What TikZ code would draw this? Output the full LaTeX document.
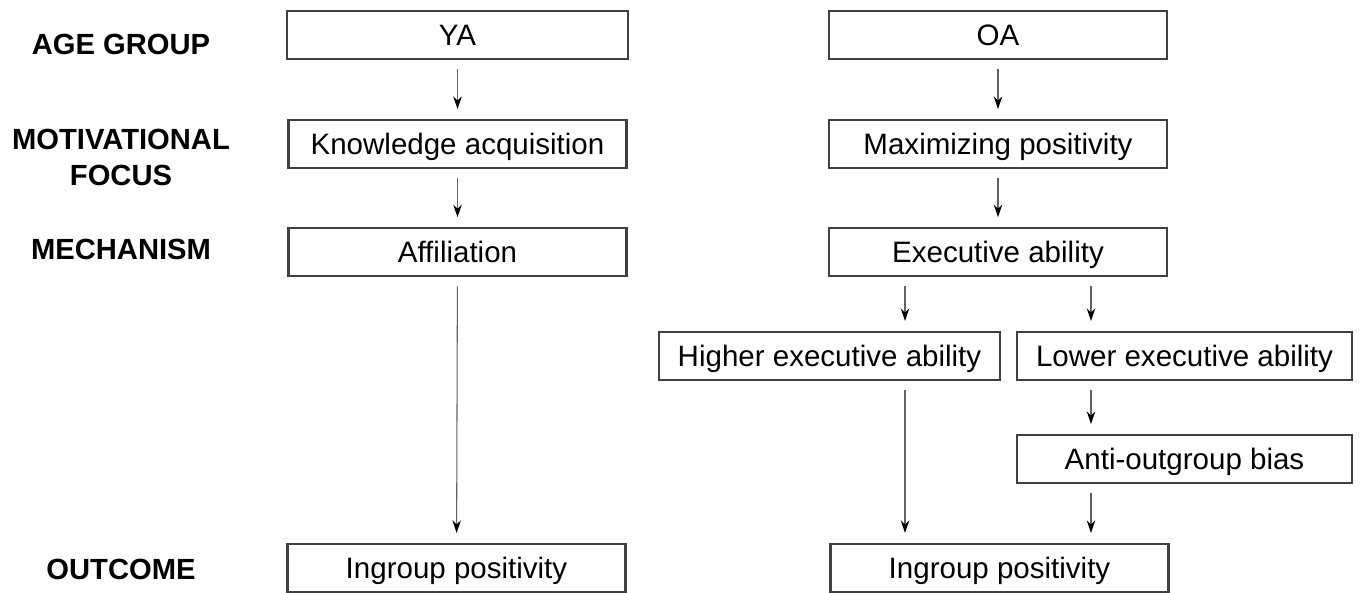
\documentclass[tikz,border=0pt]{standalone}
\usepackage{fontspec}
\setmainfont{Liberation Sans}
\usetikzlibrary{positioning,arrows.meta}
\tikzset{
  >={Stealth[length=1.25mm,width=0.85mm,black]},
  box/.style={rectangle, draw=black!75, line width=0.6pt, inner sep=0pt,
    minimum width=3.38cm, minimum height=0.48cm, align=center,
    text height=0.6em, text depth=0pt,
    font=\fontsize{8.4}{10}\selectfont},
  rowlabel/.style={align=center, font=\fontsize{8.3}{10}\selectfont\bfseries},
  link/.style={->, draw=black!62, line width=0.3pt,
    shorten <=0.09cm, shorten >=0.1cm},
}
\begin{document}
\begin{tikzpicture}[node distance=0.58cm]
  \useasboundingbox (0,0) rectangle (13.6,-5.93);
  % row labels
  \node[rowlabel] (lage) at (1.21,-0.44) {AGE GROUP};
  \node[rowlabel] (lmot) at (1.21,-1.575) {MOTIVATIONAL\\FOCUS};
  \node[rowlabel] (lmech) at (1.21,-2.49) {MECHANISM};
  \node[rowlabel] (lout) at (1.21,-5.69) {OUTCOME};
  % young adults
  \node[box, minimum width=3.41cm] (ya) at (4.575,-0.35) {YA};
  \node[box, below=0.59cm of ya] (know) {Knowledge acquisition};
  \node[box, below=of know] (affil) {Affiliation};
  \node[box] (ingya) at (4.565,-5.68) {Ingroup positivity};
  % older adults
  \node[box] (oa) at (9.98,-0.35) {OA};
  \node[box, below=0.59cm of oa] (maxpos) {Maximizing positivity};
  \node[box, below=of maxpos] (exec) {Executive ability};
  \node[box, minimum width=3.41cm] (high) at (8.295,-3.56) {Higher executive ability};
  \node[box, minimum width=3.35cm] (low) at (11.845,-3.56) {Lower executive ability};
  \node[box, minimum width=3.35cm, below=0.53cm of low] (anti) {Anti-outgroup bias};
  \node[box] (ingoa) at (9.995,-5.68) {Ingroup positivity};
  % arrow columns
  \coordinate (hx) at (9.05,0);
  \coordinate (lx) at (10.91,0);
  \draw[link] (ya) -- (know);
  \draw[link] (know) -- (affil);
  \draw[link] (affil) -- (ingya);
  \draw[link] (oa) -- (maxpos);
  \draw[link] (maxpos) -- (exec);
  \draw[link] (exec.south -| hx) -- (high.north -| hx);
  \draw[link] (exec.south -| lx) -- (low.north -| lx);
  \draw[link] (high.south -| hx) -- (ingoa.north -| hx);
  \draw[link] (low.south -| lx) -- (anti.north -| lx);
  \draw[link] (anti.south -| lx) -- (ingoa.north -| lx);
\end{tikzpicture}
\end{document}
